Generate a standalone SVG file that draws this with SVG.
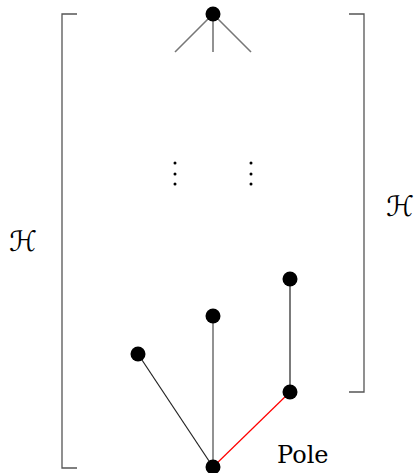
<svg xmlns="http://www.w3.org/2000/svg" width="414" height="473" viewBox="0 0 414 473">
<style>
.node{fill:#000}
.br{fill:none;stroke:#555;stroke-width:1.3}
.e{stroke:#222;stroke-width:1.2;fill:none}
.g{stroke:#777;stroke-width:1.6;fill:none}
.dot{fill:#000}
.lbl{font-family:"DejaVu Serif","Liberation Serif",serif;fill:#000}
.cal{font-family:"DejaVu Sans","Noto Sans",sans-serif;fill:#000}
</style>
<rect width="414" height="473" fill="#fff"/>
<g id="brackets">
<polyline class="br" points="77,14 62,14 62,468 77,468"/>
<polyline class="br" points="349,14 364,14 364,392 349,392"/>
</g>
<g id="connectors">
<line class="g" x1="213" y1="14" x2="175" y2="52"/>
<line class="g" x1="213" y1="14" x2="213" y2="52"/>
<line class="g" x1="213" y1="14" x2="251" y2="52"/>
<line class="e" x1="138" y1="354" x2="213" y2="467"/>
<line class="g" x1="213" y1="316" x2="213" y2="467"/>
<line class="e" x1="290" y1="279" x2="290" y2="392"/>
<line stroke="#f00" stroke-width="1.2" x1="290" y1="392" x2="213" y2="467"/>
</g>
<g id="vdots">
<circle class="dot" cx="175" cy="163" r="1.5"/><circle class="dot" cx="175" cy="174" r="1.5"/><circle class="dot" cx="175" cy="184" r="1.5"/>
<circle class="dot" cx="251" cy="163" r="1.5"/><circle class="dot" cx="251" cy="174" r="1.5"/><circle class="dot" cx="251" cy="184" r="1.5"/>
</g>
<g id="n-top"><circle class="node" cx="213" cy="14" r="7.5"/></g>
<g id="n-a"><circle class="node" cx="290" cy="279" r="7.5"/></g>
<g id="n-b"><circle class="node" cx="213" cy="316" r="7.5"/></g>
<g id="n-c"><circle class="node" cx="138" cy="354" r="7.5"/></g>
<g id="n-d"><circle class="node" cx="290" cy="392" r="7.5"/></g>
<g id="n-pole"><circle class="node" cx="213" cy="467" r="7.5"/></g>
<g id="labels">
<text class="cal" x="9" y="251" font-size="28">ℋ</text>
<text class="cal" x="386" y="216" font-size="28">ℋ′</text>
<text class="lbl" x="277" y="463" font-size="24">Pole</text>
</g>
</svg>
